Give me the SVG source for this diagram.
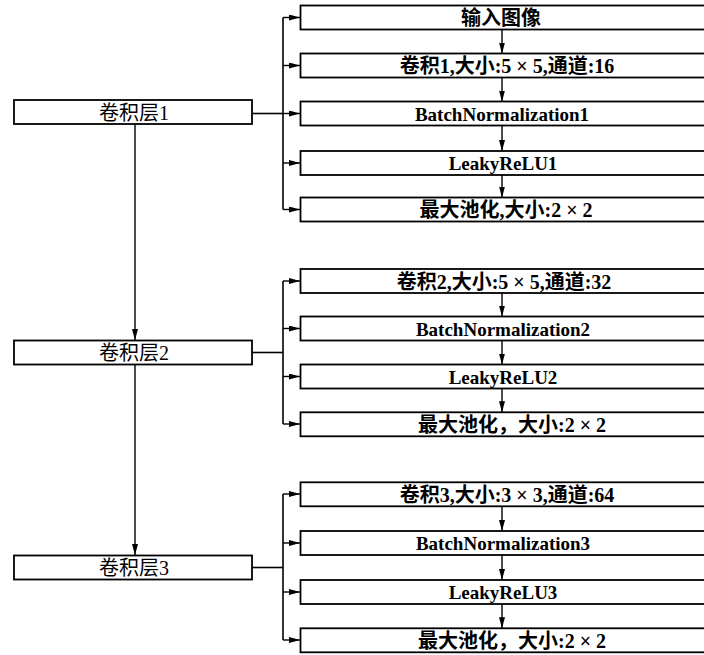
<svg xmlns="http://www.w3.org/2000/svg" width="704" height="655" viewBox="0 0 704 655">
<defs>
<marker id="ah" viewBox="0 0 11 6" refX="11" refY="3" markerWidth="11" markerHeight="6" markerUnits="userSpaceOnUse" orient="auto">
<path d="M0,0 L11,3 L0,6 z" fill="#000"/>
</marker>
<style>
.box{fill:#fff;stroke:#000;stroke-width:1.8}
.ln{fill:none;stroke:#000;stroke-width:1.6}
.ar{fill:none;stroke:#000;stroke-width:1.4;marker-end:url(#ah)}
.t{font-family:"Liberation Serif","Noto Sans CJK SC",serif;font-size:20px;text-anchor:middle;fill:#000}
.b{font-weight:bold}
.l{font-size:19px}
</style>
</defs>
<rect width="704" height="655" fill="#fff"/>
<g id="connectors">
<path class="ar" d="M135,124 V340"/>
<path class="ar" d="M135,365 V555"/>
<path class="ln" d="M252,113.5 H283"/>
<path class="ln" d="M283,17.5 V209.5"/>
<path class="ar" d="M283,17.5 H300"/>
<path class="ar" d="M283,65.5 H300"/>
<path class="ar" d="M283,113.5 H300"/>
<path class="ar" d="M283,163 H300"/>
<path class="ar" d="M283,209.5 H300"/>
<path class="ln" d="M252,352.5 H283"/>
<path class="ln" d="M283,281 V424"/>
<path class="ar" d="M283,281 H300"/>
<path class="ar" d="M283,328.5 H300"/>
<path class="ar" d="M283,376.5 H300"/>
<path class="ar" d="M283,424 H300"/>
<path class="ln" d="M252,567.5 H283"/>
<path class="ln" d="M283,494 V640"/>
<path class="ar" d="M283,494 H300"/>
<path class="ar" d="M283,543 H300"/>
<path class="ar" d="M283,592 H300"/>
<path class="ar" d="M283,640 H300"/>
<path class="ar" d="M502,29.5 V53.5"/>
<path class="ar" d="M502,77.5 V101.5"/>
<path class="ar" d="M502,125.5 V151"/>
<path class="ar" d="M502,175 V197.5"/>
<path class="ar" d="M502,293 V316.5"/>
<path class="ar" d="M502,340.5 V364.5"/>
<path class="ar" d="M502,388.5 V412.3"/>
<path class="ar" d="M502,506.3 V531"/>
<path class="ar" d="M502,555 V580"/>
<path class="ar" d="M502,604 V628.3"/>
</g>
<g id="conv1"><rect class="box" x="14" y="100" width="238" height="24"/><text class="t" x="134" y="119.5">卷积层1</text></g>
<g id="conv2"><rect class="box" x="14" y="340.5" width="238" height="24"/><text class="t" x="134" y="360">卷积层2</text></g>
<g id="conv3"><rect class="box" x="14" y="555.5" width="238" height="24"/><text class="t" x="134" y="575">卷积层3</text></g>

<g id="s1n1"><rect class="box" x="300.5" y="5.5" width="420" height="24"/><text class="t b" x="501" y="25">输入图像</text></g>
<g id="s1n2"><rect class="box" x="300.5" y="53.5" width="420" height="24"/><text class="t b" x="507" y="73">卷积1,大小:5 × 5,通道:16</text></g>
<g id="s1n3"><rect class="box" x="300.5" y="101.5" width="420" height="24"/><text class="t b l" x="502" y="120.5">BatchNormalization1</text></g>
<g id="s1n4"><rect class="box" x="300.5" y="151" width="420" height="24"/><text class="t b l" x="503" y="170">LeakyReLU1</text></g>
<g id="s1n5"><rect class="box" x="300.5" y="197.5" width="420" height="24"/><text class="t b" x="506" y="217">最大池化,大小:2 × 2</text></g>

<g id="s2n1"><rect class="box" x="300.5" y="269" width="420" height="24"/><text class="t b" x="504" y="288.5">卷积2,大小:5 × 5,通道:32</text></g>
<g id="s2n2"><rect class="box" x="300.5" y="316.5" width="420" height="24"/><text class="t b l" x="503" y="335.5">BatchNormalization2</text></g>
<g id="s2n3"><rect class="box" x="300.5" y="364.5" width="420" height="24"/><text class="t b l" x="503" y="383.5">LeakyReLU2</text></g>
<g id="s2n4"><rect class="box" x="300.5" y="412.3" width="420" height="24"/><text class="t b" x="512" y="431.8">最大池化，大小:2 × 2</text></g>

<g id="s3n1"><rect class="box" x="300.5" y="482.3" width="420" height="24"/><text class="t b" x="507" y="501.8">卷积3,大小:3 × 3,通道:64</text></g>
<g id="s3n2"><rect class="box" x="300.5" y="531" width="420" height="24"/><text class="t b l" x="503" y="550">BatchNormalization3</text></g>
<g id="s3n3"><rect class="box" x="300.5" y="580" width="420" height="24"/><text class="t b l" x="503" y="599">LeakyReLU3</text></g>
<g id="s3n4"><rect class="box" x="300.5" y="628.3" width="420" height="24"/><text class="t b" x="512" y="647.8">最大池化，大小:2 × 2</text></g>
</svg>
